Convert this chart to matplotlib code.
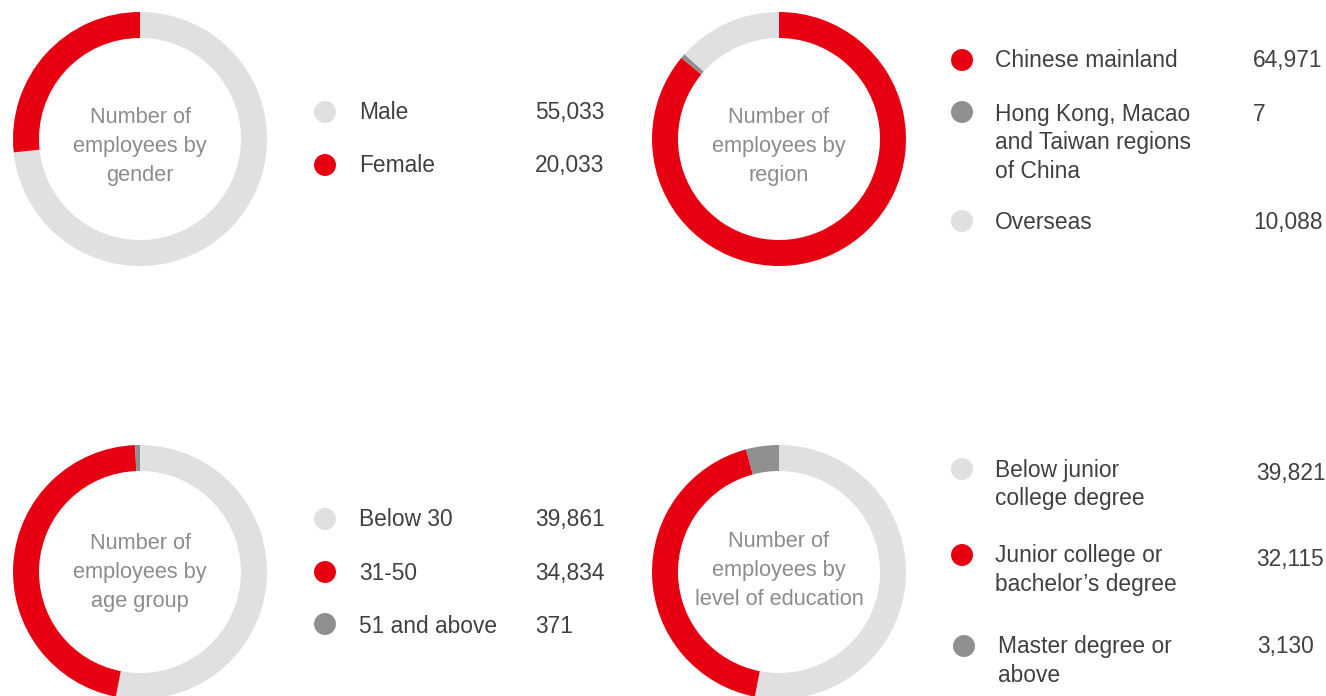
import matplotlib
matplotlib.use("Agg")
import matplotlib.pyplot as plt
import numpy as np

plt.rcParams['font.family'] = ['Liberation Sans', 'DejaVu Sans']

W, H = 1326, 696

RED = '#E60012'
LIGHT = '#E0E0E0'
DARK = '#8E8F91'
TEXT = '#404040'
CTEXT = '#8C8C8C'

# ---- data ----
gender_labels = ['Male', 'Female']
gender_values = [55033, 20033]
gender_colors = [LIGHT, RED]

region_labels = ['Chinese mainland', 'Hong Kong, Macao\nand Taiwan regions\nof China', 'Overseas']
region_values = [64971, 7, 10088]
region_colors = [RED, DARK, LIGHT]

age_labels = ['Below 30', '31-50', '51 and above']
age_values = [39861, 34834, 371]
age_colors = [LIGHT, RED, DARK]

edu_labels = ['Below junior\ncollege degree', 'Junior college or\nbachelor\u2019s degree', 'Master degree or\nabove']
edu_values = [39821, 32115, 3130]
edu_colors = [LIGHT, RED, DARK]

titles = ['Number of\nemployees by\ngender', 'Number of\nemployees by\nregion',
          'Number of\nemployees by\nage group', 'Number of\nemployees by\nlevel of education']

fig = plt.figure(figsize=(W / 100, H / 100), dpi=100)
ax = fig.add_axes([0, 0, 1, 1])


def Y(y):
    return H - y


def donut(values, colors, cx, cy, title, first_base):
    vals = np.asarray(values, dtype=float)
    disp = np.maximum(vals, vals.sum() * 0.006)
    ax.pie(disp, colors=colors, startangle=90, counterclock=False,
           center=(cx, Y(cy)), radius=127, frame=True,
           wedgeprops=dict(width=26, edgecolor='none', linewidth=0))
    for k, line in enumerate(title.split('\n')):
        ax.text(cx, Y(first_base + 29 * k), line, ha='center', va='baseline',
                fontsize=15.7, color=CTEXT)


def leg_block(labels, values, colors, mxs, marker_ys, txs, text_bases, vxs, val_bases, spacing=28.5):
    for i in range(len(labels)):
        ax.scatter([mxs[i]], [Y(marker_ys[i])], s=250, color=colors[i],
                   edgecolors='none', zorder=3)
        for k, line in enumerate(labels[i].split('\n')):
            ax.text(txs[i], Y(text_bases[i] + spacing * k), line, ha='left',
                    va='baseline', fontsize=16.4, color=TEXT)
        ax.text(vxs[i], Y(val_bases[i]), f'{values[i]:,}', ha='left',
                va='baseline', fontsize=16.4, color=TEXT)


donut(gender_values, gender_colors, 140, 139, titles[0], 123)
donut(region_values, region_colors, 779, 139, titles[1], 123)
donut(age_values, age_colors, 140, 572, titles[2], 549)
donut(edu_values, edu_colors, 779, 572, titles[3], 547)

leg_block(gender_labels, gender_values, gender_colors,
          [325, 325], [112, 165], [359, 359], [119, 172], [535, 535], [119, 172])
leg_block(age_labels, age_values, age_colors,
          [325, 325, 325], [519, 572, 624], [359, 359, 359], [526, 580, 633],
          [535, 535, 535], [526, 580, 633])
leg_block(region_labels, region_values, region_colors,
          [962, 962, 962], [60, 112, 221], [995, 995, 995], [67, 121, 229],
          [1253, 1253, 1253], [67, 121, 229])
leg_block(edu_labels, edu_values, edu_colors,
          [962, 962, 964], [469, 555, 646], [995, 995, 998], [477, 562, 653],
          [1256, 1256, 1257], [480, 566, 653])

ax.set_xlim(0, W)
ax.set_ylim(0, H)
ax.set_aspect('equal')
ax.axis('off')

fig.savefig('out.png', dpi=100)
